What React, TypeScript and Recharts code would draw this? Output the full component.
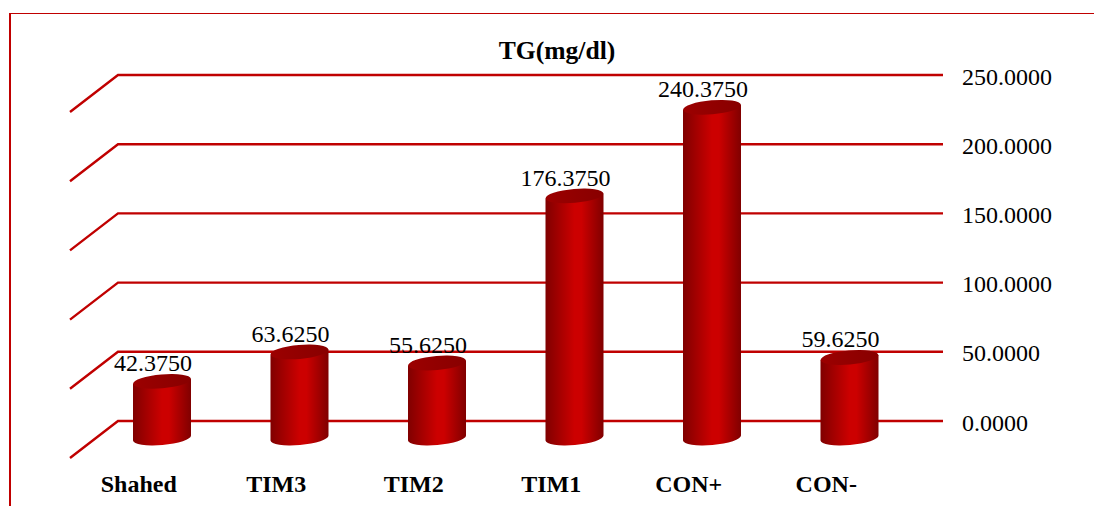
import React from 'react';
import { BarChart, Bar, XAxis, YAxis, CartesianGrid, LabelList } from 'recharts';

const categories = ['Shahed', 'TIM3', 'TIM2', 'TIM1', 'CON+', 'CON-'];
const tgValues = [42.375, 63.625, 55.625, 176.375, 240.375, 59.625];
const yTicks = [0, 50, 100, 150, 200, 250];

const chartData = categories.map((name, i) => ({ name, tg: tgValues[i] }));

const RED = '#c00000';
const FONT = '"Liberation Serif", "Times New Roman", serif';

// fake 3D floor lines: slanted piece on the left, then the wall line shifted right
const GridLine = (props: any) => {
  const { x1, x2, y1 } = props;
  const wall = x1 + 25;
  return (
    <path
      d={`M${x1 - 23} ${y1 + 37} L${wall} ${y1} L${x2 + 25} ${y1}`}
      fill="none"
      stroke={RED}
      strokeWidth={2.4}
    />
  );
};

const Cylinder = (props: any) => {
  const { x, y, width, height } = props;
  const rx = width / 2;
  const ry = 7;
  const tilt = 2.5;
  const top = y + 19;
  const bottom = y + height + 17;
  const cx = x + rx;
  return (
    <g>
      <path
        d={`M${x} ${top + tilt} L${x} ${bottom + tilt} A${rx} ${ry} -5 0 0 ${x + width} ${bottom - tilt} L${x + width} ${top - tilt} Z`}
        fill="url(#cylBody)"
      />
      <ellipse cx={cx} cy={top} rx={rx} ry={ry} transform={`rotate(-5 ${cx} ${top})`} fill="url(#cylTop)" />
    </g>
  );
};

const ValueLabel = (props: any) => {
  const { x, y, width, value } = props;
  return (
    <text x={x + width / 2 - 9} y={y + 9} textAnchor="middle" fontFamily={FONT} fontSize={24} fill="#000">
      {Number(value).toFixed(4)}
    </text>
  );
};

export default function App() {
  return (
    <div style={{ position: 'absolute', left: 0, top: 0, width: 1094, height: 506, background: '#fff', overflow: 'hidden' }}>
      <div
        style={{
          position: 'absolute',
          left: 9,
          top: 13,
          width: 1085,
          height: 493,
          boxSizing: 'border-box',
          borderTop: `1px solid ${RED}`,
          borderLeft: `2px solid ${RED}`,
        }}
      />
      <div style={{ position: 'absolute', left: 0, top: 0 }}>
        <BarChart
          width={1094}
          height={506}
          data={chartData}
          margin={{ top: 75, right: 0, bottom: 0, left: 93 }}
          barCategoryGap={0}
        >
          <defs>
            <linearGradient id="cylBody" x1="0" y1="0" x2="1" y2="0">
              <stop offset="0" stopColor="#800000" />
              <stop offset="0.5" stopColor="#cc0000" />
              <stop offset="0.62" stopColor="#cc0000" />
              <stop offset="1" stopColor="#800000" />
            </linearGradient>
            <linearGradient id="cylTop" x1="0" y1="0" x2="1" y2="0">
              <stop offset="0" stopColor="#9c0000" />
              <stop offset="1" stopColor="#880000" />
            </linearGradient>
          </defs>
          <text x={557} y={59} textAnchor="middle" fontFamily={FONT} fontSize={25.6} fontWeight="bold" fill="#000">
            TG(mg/dl)
          </text>
          <CartesianGrid horizontal={GridLine} vertical={false} />
          <XAxis
            dataKey="name"
            height={85}
            axisLine={false}
            tickLine={false}
            interval={0}
            tickMargin={48}
            tick={{ dx: -23, fontFamily: FONT, fontSize: 24, fontWeight: 'bold', fill: '#000' }}
          />
          <YAxis
            orientation="right"
            width={176}
            domain={[0, 250]}
            ticks={yTicks}
            axisLine={false}
            tickLine={false}
            tickMargin={38}
            tickFormatter={(v: number) => v.toFixed(4)}
            tick={{ dy: 1, fontFamily: FONT, fontSize: 24, fill: '#000' }}
          />
          <Bar dataKey="tg" barSize={58} shape={Cylinder} isAnimationActive={false}>
            <LabelList dataKey="tg" content={ValueLabel} />
          </Bar>
        </BarChart>
      </div>
    </div>
  );
}
